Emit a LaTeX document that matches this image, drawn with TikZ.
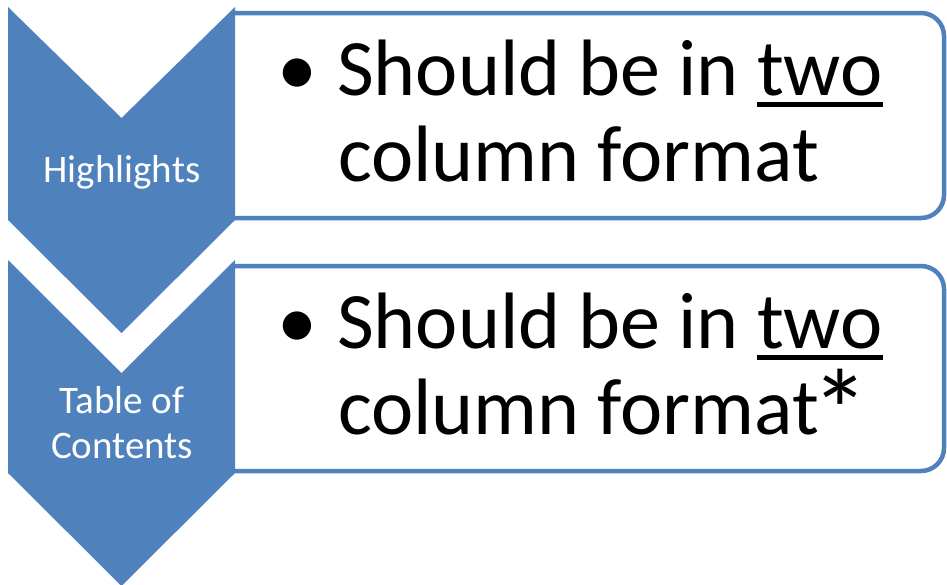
\documentclass[tikz,border=0pt]{standalone}
\usepackage{fontspec}
\usepackage{graphicx}
\setmainfont{Carlito}
\definecolor{accentblue}{HTML}{4F81BD}
\newcommand\thickul[1]{\setbox0\hbox{#1}\rlap{\rule[-12pt]{\wd0}{5pt}}#1}
\newcommand\bigast{\kern-8pt\raisebox{-17pt}{\scalebox{1.45}{*}}}
\tikzset{
  chevshape/.style={fill=accentblue, draw=none},
  textbox/.style={draw=accentblue, line width=4.5pt, fill=white},
  chevtext/.style={text=white, font=\fontsize{39}{45}\selectfont, inner sep=0pt, anchor=base},
  bodytext/.style={text=black, font=\fontsize{80}{86}\selectfont, inner sep=0pt, anchor=base west},
  bullettext/.style={text=black, font=\fontsize{80}{86}\selectfont, inner sep=0pt, anchor=base}
}
\begin{document}
\begin{tikzpicture}[x=1pt,y=-1pt]
\useasboundingbox (0,0) rectangle (947,584);
% text boxes (left side hidden behind the chevrons)
\draw[textbox, rounded corners=23pt] (235,13) -- (944,13) -- (944,218) -- (235,218);
\draw[textbox, rounded corners=23pt] (235,266) -- (944,266) -- (944,471) -- (235,471);
% chevrons
\fill[chevshape] (8,7) -- (121.5,118) -- (235,7) -- (235,220) -- (121.5,333) -- (8,220) -- cycle;
\fill[chevshape] (8,260) -- (121.5,373) -- (235,260) -- (235,473) -- (121.5,586) -- (8,473) -- cycle;
% chevron labels
\node[chevtext] (hl) at (122,182) {Highlights};
\node[chevtext] (toc1) at (122,413) {Table of};
\node[chevtext] (toc2) at (122,458) {Contents};
% box 1 text
\node[bullettext] (b1) at (297,95) {•};
\node[bodytext] (l1a) at (337,95) {Should be in \thickul{two}};
\node[bodytext] (l1b) at (338,181) {column format};
% box 2 text
\node[bullettext] (b2) at (297,348) {•};
\node[bodytext] (l2a) at (337,348) {Should be in \thickul{two}};
\node[bodytext] (l2b) at (338,434) {column format\bigast};
\end{tikzpicture}
\end{document}
